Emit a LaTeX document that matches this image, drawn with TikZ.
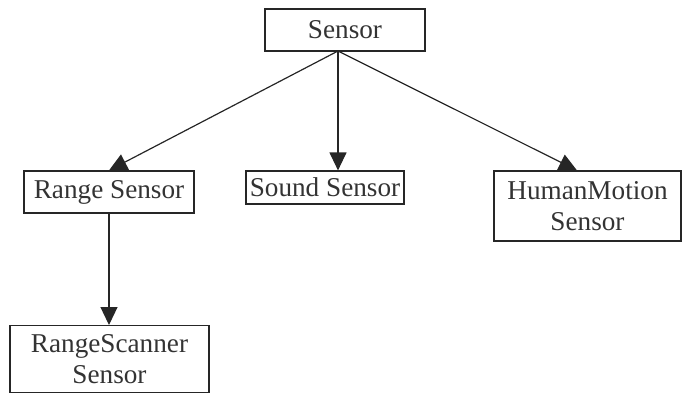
\documentclass[tikz,border=0pt]{standalone}
\usepackage{fontspec}
\setmainfont{Liberation Serif}
\usetikzlibrary{arrows.meta}
\begin{document}
\begin{tikzpicture}[x=1bp,y=-1bp,
  box/.style={draw=black!85, line width=1.2bp, rectangle, inner sep=0pt, align=center,
    text=black!80, font=\fontsize{27.2bp}{30.5bp}\selectfont},
  conn/.style={draw=black!85, line width=1.2bp, -{Triangle[length=18bp,width=17bp]}}]
\useasboundingbox (0,0) rectangle (683,394);
\clip (0,0) rectangle (683,394);
\node[box, minimum width=160bp, minimum height=42bp] (s) at (345,30) {Sensor};
\node[box, minimum width=170bp, minimum height=42bp] (r) at (109,192) {Range Sensor};
\node[box, minimum width=158bp, minimum height=33bp] (sd) at (325,187.5) {Sound Sensor};
\node[box, minimum width=187bp, minimum height=70bp] (hm) at (587.5,206) {HumanMotion\\Sensor};
\node[box, minimum width=199bp, anchor=north, inner ysep=9bp] (rsc) at (109.5,325) {RangeScanner\\Sensor};
\coordinate (src) at (338,51);
\draw[conn] (src) -- (r.north);
\draw[conn] (src) -- (src |- sd.north);
\draw[conn] (src) -- ([xshift=-10.5bp]hm.north);
\draw[conn] (r.south) -- (r.south |- rsc.north);
\end{tikzpicture}
\end{document}
